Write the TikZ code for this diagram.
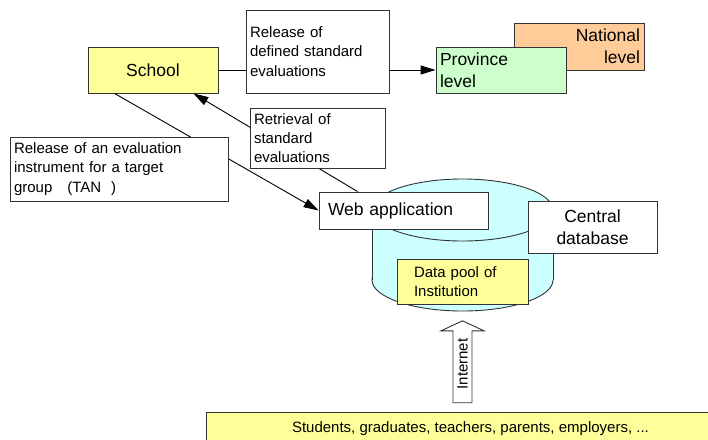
\documentclass[tikz,border=0pt]{standalone}
\usepackage{fontspec}
\setmainfont{Liberation Sans}
\usetikzlibrary{arrows.meta,shapes.arrows}

\definecolor{schoolyellow}{HTML}{FFFF99}
\definecolor{provgreen}{HTML}{CCFFCC}
\definecolor{natorange}{HTML}{FFCC99}
\definecolor{dbcyan}{HTML}{CCFFFF}
\definecolor{boxline}{HTML}{333333}

\tikzset{
	panel/.style={draw=boxline, line width=0.9pt, fill=white, inner sep=4pt,
		font=\fontsize{15}{19.3}\selectfont, align=left},
	bigpanel/.style={panel, font=\fontsize{17.5}{22}\selectfont},
}

\begin{document}
\begin{tikzpicture}[x=1pt,y=-1pt,>={Triangle[length=15pt,width=9pt]},
		line width=0.9pt]
		\useasboundingbox (0,0) rectangle (708,439);
		\clip (0,0) rectangle (708,439);

		% central database cylinder
		\draw[draw=boxline, fill=dbcyan] (462.5,280) ellipse [x radius=90.5, y radius=31];
		\fill[dbcyan] (372,210) rectangle (553,280);
		\draw[boxline] (372,210) -- (372,280);
		\draw[boxline] (553,210) -- (553,280);
		\draw[draw=boxline, fill=dbcyan] (462.5,210) ellipse [x radius=90.5, y radius=31];

		\node[bigpanel, fill=schoolyellow, minimum width=130, minimum height=46, align=center] (school) at (153,70) {School};
		\node[bigpanel, fill=natorange, minimum width=130, minimum height=47, text width=122pt, align=right] (natl) at (579,46.5) {National\\level};
		\node[bigpanel, fill=provgreen, minimum width=130, minimum height=46, text width=122pt] (prov) at (501,70) {Province\\level};
		\node[bigpanel, minimum width=169, minimum height=37, inner xsep=9pt, text width=151pt] (web) at (403.5,210.5) {Web application};
		\node[bigpanel, minimum width=129, minimum height=52, text width=121pt, align=center] (central) at (592.5,227) {Central\\database};
		\node[panel, fill=schoolyellow, minimum width=131, minimum height=45, inner xsep=17pt, text width=97pt] (pool) at (462.5,281.5) {Data pool of\\Institution};
		\node[panel, fill=schoolyellow, anchor=north west, minimum width=528, minimum height=32, align=center] (people) at (206,412) {Students, graduates, teachers, parents, employers, ...};
		\node[single arrow, draw=boxline, fill=white, rotate=90, minimum height=82pt, minimum width=43pt,
			single arrow head extend=11pt, single arrow tip angle=130, inner sep=3pt,
			font=\fontsize{15}{18}\selectfont] (inet) at (462.5,364) {Internet};

		% connectors
		\draw (school.east) -- (school.east -| 246,70);
		\draw[->] ([xshift=39pt]web.north west) -- ([xshift=-25pt]school.south east);
		\draw[->] ([xshift=27pt]school.south west) -- (web.west);

		% labels on the connectors
		\node[panel, minimum width=143, minimum height=83, text width=135pt] (rel1) at (317.5,51.5) {Release of\\defined standard\\evaluations};
		\node[panel, minimum width=135, minimum height=60, text width=127pt] (retr) at (317.5,138) {Retrieval of\\standard\\evaluations};
		\node[panel, minimum width=218, minimum height=64, text width=210pt] (rel2) at (119,169) {Release of an evaluation\\instrument for a target\\group \ \ (TAN \ )};
		\draw[->] (rel1.east |- prov) -- (prov.west);
\end{tikzpicture}
\end{document}
